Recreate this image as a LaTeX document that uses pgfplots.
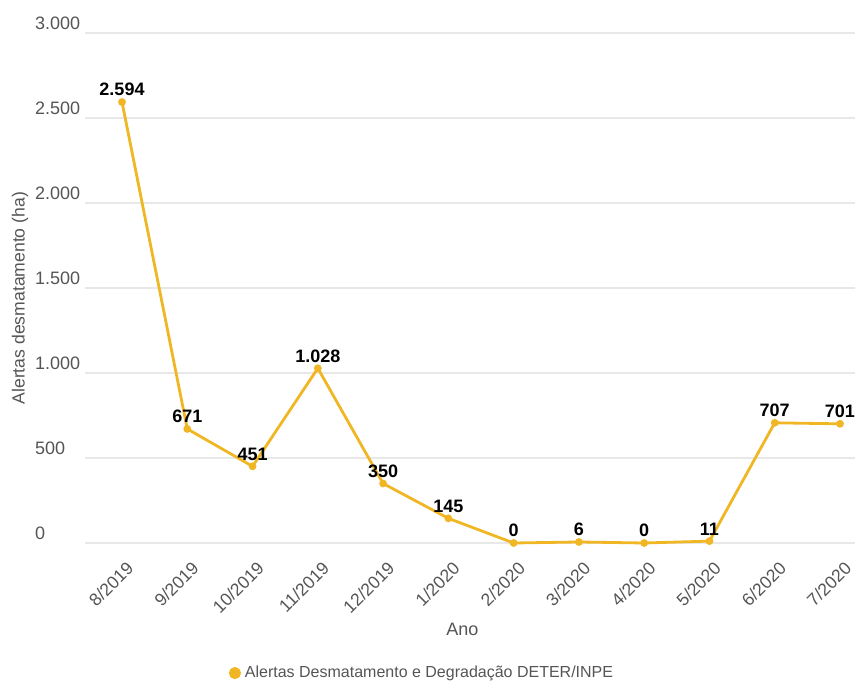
\documentclass[border=0pt]{standalone}
\usepackage{pgfplots}
\pgfplotsset{compat=1.18}
\usepackage{fontspec}
\setmainfont{Liberation Sans}
\definecolor{linecol}{RGB}{240,182,36}
\definecolor{tickgray}{RGB}{85,85,85}
\definecolor{gridgray}{RGB}{232,232,232}
\begin{document}
\begin{tikzpicture}
\useasboundingbox (-42.5pt,-71.5pt) rectangle (388.5pt,271.5pt);
\begin{axis}[
  scale only axis,
  width=385pt, height=255pt,
  at={(0,0)}, anchor=south west,
  xmin=-0.567, xmax=11.23,
  ymin=0, ymax=3000,
  clip=false,
  axis line style={draw=none},
  major tick length=0pt,
  ymajorgrids,
  grid style={gridgray, line width=0.8pt},
  ytick={0,500,1000,1500,2000,2500,3000},
  /pgf/number format/assume math mode=true,
  /pgf/number format/.cd, 1000 sep={.}, fixed, precision=0, /pgfplots/.cd,
  scaled y ticks=false,
  yticklabel style={anchor=west, xshift=-28.5pt, yshift=5pt, font=\fontsize{9}{10}\selectfont, text=tickgray},
  xtick=data,
  xticklabels={8/2019,9/2019,10/2019,11/2019,12/2019,1/2020,2/2020,3/2020,4/2020,5/2020,6/2020,7/2020},
  xticklabel style={rotate=45, anchor=north east, xshift=-1.5pt, yshift=-4pt, font=\fontsize{8.8}{10}\selectfont, text=tickgray},
  xlabel={Ano},
  xlabel style={at={(axis description cs:0.49,0)}, anchor=center, yshift=-43pt, font=\fontsize{9}{10}\selectfont, text=tickgray},
  ylabel={Alertas desmatamento (ha)},
  every axis y label/.style={at={(axis description cs:-0.0844,0.48)}, rotate=90, anchor=center, font=\fontsize{8.8}{10}\selectfont, text=tickgray},
  legend style={at={(axis description cs:0.439,-0.255)}, anchor=center, draw=none, fill=none, font=\fontsize{8}{9}\selectfont, text=tickgray},
  legend cell align=left,
]
\addplot[color=linecol, line width=1.4pt, mark=*, mark size=1.2pt,
  nodes near coords,
  every node near coord/.append style={font=\bfseries\fontsize{9}{10}\selectfont, text=black, anchor=south, yshift=-1pt},
  legend image code/.code={\fill[linecol] (0.1cm,0cm) circle (2.3pt);}]
coordinates {
(0,2594) (1,671) (2,451) (3,1028) (4,350) (5,145) (6,0) (7,6) (8,0) (9,11) (10,707) (11,701)
};
\addlegendentry{Alertas Desmatamento e Degradação DETER/INPE}
\end{axis}
\end{tikzpicture}
\end{document}
